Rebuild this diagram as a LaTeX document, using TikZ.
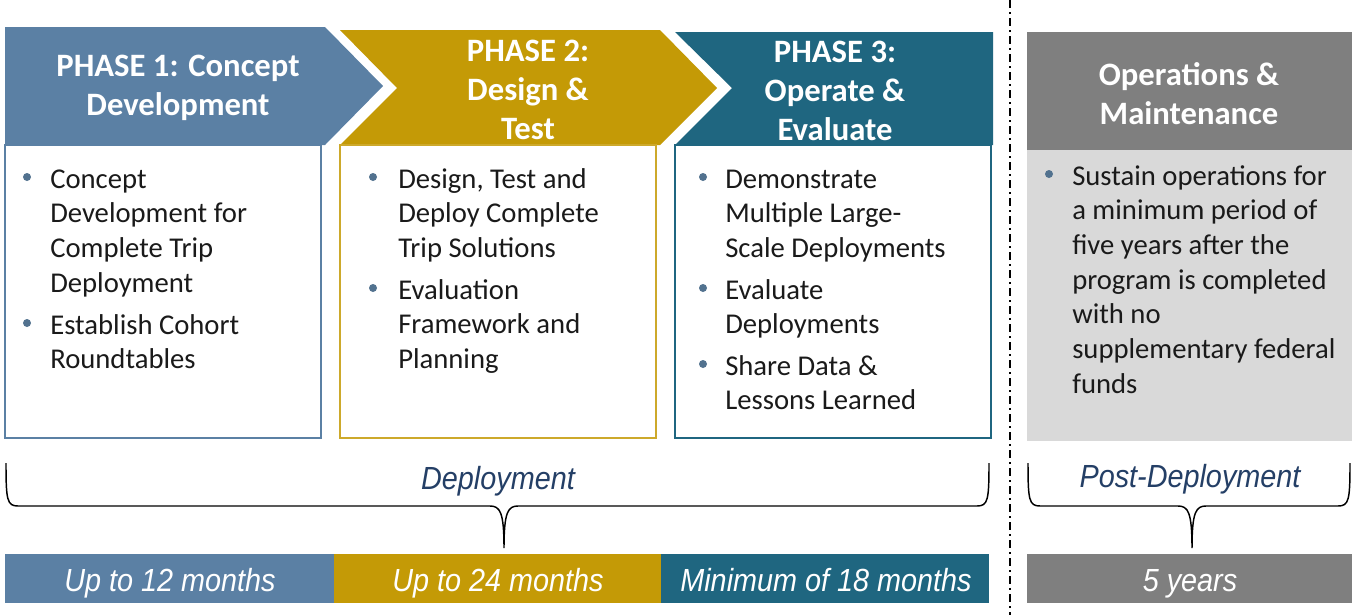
\documentclass[tikz,border=0pt]{standalone}
\usepackage{fontspec}
\setmainfont{Carlito}
\newfontfamily\arialn{Liberation Sans}[FakeStretch=0.9]
\definecolor{cblue}{HTML}{5B80A4}
\definecolor{cgold}{HTML}{C49A06}
\definecolor{cteal}{HTML}{1F6680}
\definecolor{cgray}{HTML}{7F7F7F}
\definecolor{clight}{HTML}{D9D9D9}
\definecolor{cbul}{HTML}{52728F}
\definecolor{ctxt}{HTML}{1A1A1A}
\definecolor{cnavy}{HTML}{243F66}
\begin{document}
\begin{tikzpicture}[x=0.75pt,y=-0.75pt,
  hdr/.style={text=white,font=\bfseries\fontsize{24.5}{29.25}\selectfont,align=center,inner sep=0},
  btxt/.style={anchor=north west,inner sep=0,align=left,text=ctxt,font=\fontsize{21.5}{26}\selectfont},
  bdot/.style={circle,fill=cbul,inner sep=0,minimum size=6pt},
  lab/.style={font=\arialn\itshape\fontsize{24}{28}\selectfont,inner sep=0,anchor=base},
  bartxt/.style={lab,text=white},
  brace/.style={line width=1.1pt,black},
  box/.style={line width=1.3pt,fill=white}
]
\useasboundingbox (0,0) rectangle (1364,615);
\fill[white] (0,0) rectangle (1364,615);

% header chevrons
\fill[cblue] (5,27) -- (325,27) -- (383,86) -- (325,145) -- (5,145) -- cycle;
\fill[cgold] (340,30) -- (660,30) -- (717,88) -- (660,145) -- (340,145) -- (397,88) -- cycle;
\fill[cteal] (675,32) -- (993,32) -- (993,145) -- (675,145) -- (732,88) -- cycle;
\fill[cgray] (1027,32) rectangle (1352,150);

\node[hdr] (h1) at (178,88) {PHASE 1: Concept\\Development};
\node[hdr] (h2) at (528,90) {PHASE 2:\\Design \&\\Test};
\node[hdr] (h3) at (835,90.5) {PHASE 3:\\Operate \&\\Evaluate};
\node[hdr] (h4) at (1189,94) {Operations \&\\Maintenance};

% content boxes
\draw[box,draw=cblue] (5,145) rectangle (321,438);
\draw[box,draw=cgold!85!white] (340,145) rectangle (656,438);
\draw[box,draw=cteal] (675,145) rectangle (991,438);
\fill[clight] (1027,150) rectangle (1352,441);

% phase 1 bullets
\node[bdot] (d11) at (27,177) {};
\node[btxt] (t11) at (50,163.7) {\strut Concept\\Development for\\Complete Trip\\Deployment};
\node[bdot] (d12) at (27,323) {};
\node[btxt] (t12) at (50,309.7) {\strut Establish Cohort\\Roundtables};

% phase 2 bullets
\node[bdot] (d21) at (373,177) {};
\node[btxt] (t21) at (398,163.7) {\strut Design, Test and\\Deploy Complete\\Trip Solutions};
\node[bdot] (d22) at (373,288) {};
\node[btxt] (t22) at (398,274.7) {\strut Evaluation\\Framework and\\Planning};

% phase 3 bullets
\node[bdot] (d31) at (703,177) {};
\node[btxt] (t31) at (725,163.7) {\strut Demonstrate\\Multiple Large-\\Scale Deployments};
\node[bdot] (d32) at (703,288) {};
\node[btxt] (t32) at (725,274.7) {\strut Evaluate\\Deployments};
\node[bdot] (d33) at (703,364) {};
\node[btxt] (t33) at (725,350.7) {\strut Share Data \&\\Lessons Learned};

% operations bullet
\node[bdot] (d41) at (1049,174) {};
\node[btxt] (t41) at (1072,160.7) {\strut Sustain operations for\\a minimum period of\\five years after the\\program is completed\\with no\\supplementary federal\\funds};

% separator
\draw[line width=1.3pt,dash pattern=on 6pt off 3pt on 1.5pt off 3pt] (1010,0) -- (1010,615);

% braces
\draw[brace] (6,463) .. controls (6,500) and (7,506) .. (18,506) -- (490,506)
  .. controls (500,506) and (504,512) .. (504,548)
  .. controls (504,512) and (508,506) .. (518,506) -- (977,506)
  .. controls (988,506) and (989,500) .. (989,463);
\draw[brace] (1028,463) .. controls (1028,500) and (1029,506) .. (1040,506) -- (1178,506)
  .. controls (1188,506) and (1192,512) .. (1192,548)
  .. controls (1192,512) and (1196,506) .. (1206,506) -- (1338,506)
  .. controls (1349,506) and (1350,500) .. (1350,463);

\node[lab,text=cnavy] (dep) at (498,489.5) {Deployment};
\node[lab,text=cnavy] (post) at (1190,487.5) {Post-Deployment};

% bottom bars
\fill[cblue] (5,554) rectangle (334,603);
\fill[cgold] (334,554) rectangle (661,603);
\fill[cteal] (661,554) rectangle (989,603);
\fill[cgray] (1027,554) rectangle (1352,603);

\node[bartxt] (b1) at (170,591.5) {Up to 12 months};
\node[bartxt] (b2) at (498,591.5) {Up to 24 months};
\node[bartxt] (b3) at (826,591.5) {Minimum of 18 months};
\node[bartxt] (b4) at (1190,591.5) {5 years};
\end{tikzpicture}
\end{document}
